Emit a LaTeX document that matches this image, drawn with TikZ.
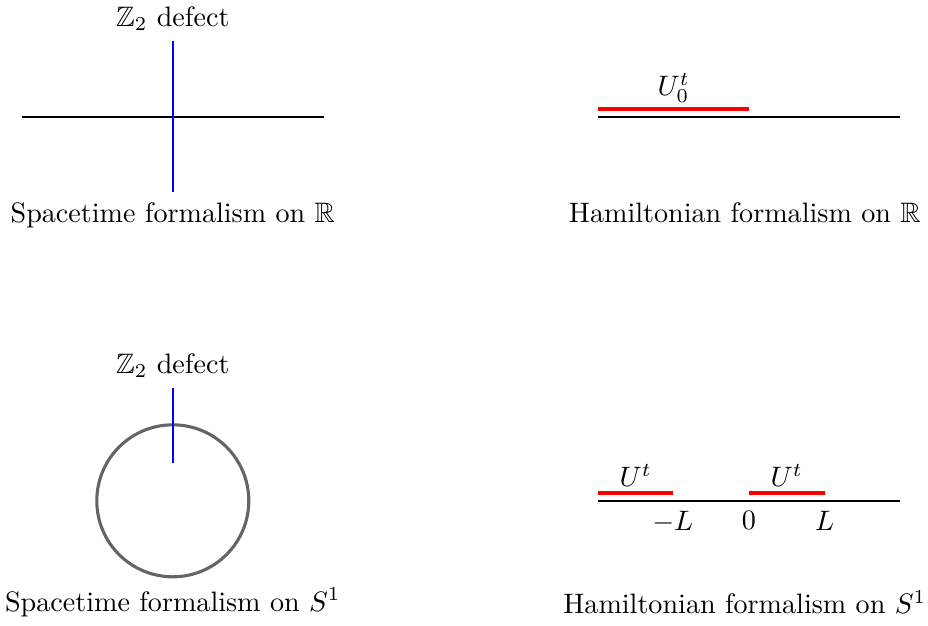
\documentclass[tikz,border=0pt]{standalone}
\usepackage{amsmath,amssymb}
\usepackage{tikz}
\usetikzlibrary{positioning,calc}
\definecolor{ringgray}{RGB}{100,100,100}
\tikzset{
  wire/.style={draw=black,line width=0.75pt},
  defectline/.style={draw=blue,line width=0.8pt},
  opline/.style={draw=red,line width=1.5pt},
  ring/.style={draw=ringgray,line width=1.1pt},
  lbl/.style={inner sep=2pt,font=\normalsize},
}

\begin{document}
\begin{tikzpicture}
  \useasboundingbox (0,0) rectangle (11.6,-7.8125);
  % spacetime on R
  \coordinate (c1) at (2.16,-1.46);
  \coordinate (l1) at (0.28,-1.46);
  \coordinate (r1) at (4.05,-1.46);
  \coordinate (t1) at (2.16,-0.51);
  \coordinate (b1) at (2.16,-2.40);
  \draw[wire] (l1) -- (r1);
  \draw[defectline] (t1) -- (b1);
  \node[lbl,above=0.5mm of t1] (def1) {$\mathbb{Z}_2$ defect};
  \node[lbl,below=0.5mm of b1] (cap1) {Spacetime formalism on $\mathbb{R}$};
  % hamiltonian on R
  \coordinate (l2) at (7.48,-1.46);
  \coordinate (r2) at (11.25,-1.46);
  \coordinate (ul2) at (7.48,-1.36);
  \coordinate (ur2) at (9.36,-1.36);
  \draw[wire] (l2) -- (r2);
  \draw[opline] (ul2) -- (ur2);
  \node[lbl,above=0pt of $(ul2)!0.5!(ur2)$] (u0) {$U_0^t$};
  \node[lbl] (cap2) at (9.31,-2.66) {Hamiltonian formalism on $\mathbb{R}$};
  % spacetime on S^1
  \coordinate (c3) at (2.16,-6.26);
  \coordinate (t3) at (2.16,-4.85);
  \coordinate (b3) at (2.16,-5.79);
  \draw[ring] (c3) circle (0.95);
  \draw[defectline] (t3) -- (b3);
  \node[lbl,above=0.5mm of t3] (def3) {$\mathbb{Z}_2$ defect};
  \node[lbl] (cap3) at (2.16,-7.53) {Spacetime formalism on $S^1$};
  % hamiltonian on S^1
  \coordinate (l4) at (7.48,-6.26);
  \coordinate (r4) at (11.25,-6.26);
  \coordinate (m4) at (8.41,-6.26);
  \coordinate (o4) at (9.36,-6.26);
  \coordinate (p4) at (10.31,-6.26);
  \coordinate (ua) at (7.48,-6.16);
  \coordinate (ub) at (8.41,-6.16);
  \coordinate (uc) at (9.36,-6.16);
  \coordinate (ud) at (10.31,-6.16);
  \draw[wire] (l4) -- (r4);
  \draw[opline] (ua) -- (ub);
  \draw[opline] (uc) -- (ud);
  \node[lbl,above=0pt of $(ua)!0.5!(ub)$] (ut1) {$U^t$};
  \node[lbl,above=0pt of $(uc)!0.5!(ud)$] (ut2) {$U^t$};
  \node[lbl,below=0.5mm of m4] (mL) {$-L$};
  \node[lbl,below=0.5mm of o4] (zero) {$0$};
  \node[lbl,below=0.5mm of p4] (pL) {$L$};
  \node[lbl] (cap4) at (9.31,-7.53) {Hamiltonian formalism on $S^1$};
\end{tikzpicture}
\end{document}
